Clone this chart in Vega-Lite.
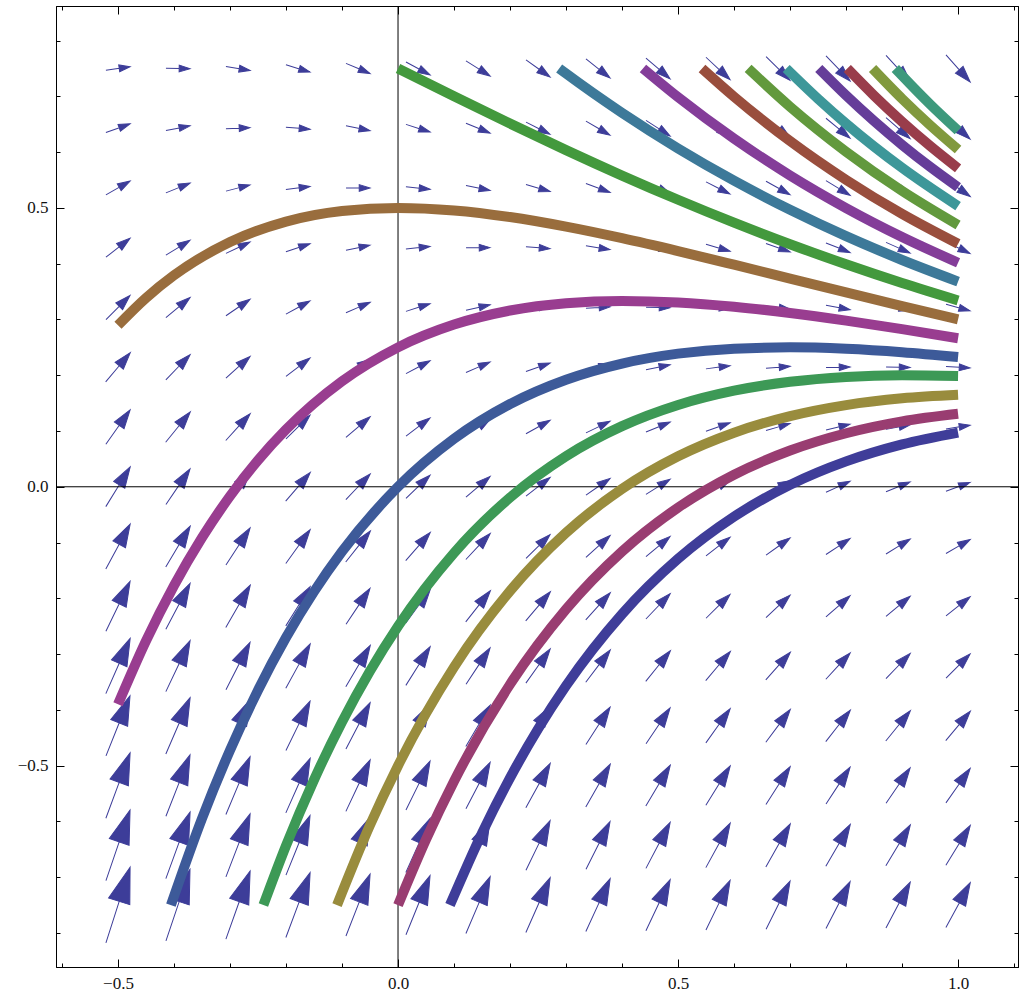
{
  "$schema": "https://vega.github.io/schema/vega-lite/v6.json",
  "width": 962,
  "height": 961,
  "autosize": "none",
  "padding": {"left": 56, "top": 6, "right": 9, "bottom": 28},
  "background": "white",
  "config": {
    "view": {"stroke": "black", "strokeWidth": 1},
    "axis": {
      "domainColor": "black",
      "domainWidth": 1,
      "tickColor": "black",
      "tickWidth": 1,
      "grid": false,
      "title": null,
      "labelOverlap": false,
      "labelFlush": false
    }
  },
  "datasets": {
    "arrows": [
      {"x":-0.5,"y":-0.75,"s":3.149},{"x":-0.3929,"y":-0.75,"s":2.981},{"x":-0.2857,"y":-0.75,"s":2.831},{"x":-0.1786,"y":-0.75,"s":2.696},{"x":-0.0714,"y":-0.75,"s":2.574},{"x":0.0357,"y":-0.75,"s":2.465},{"x":0.1429,"y":-0.75,"s":2.367},{"x":0.25,"y":-0.75,"s":2.279},{"x":0.3571,"y":-0.75,"s":2.2},{"x":0.4643,"y":-0.75,"s":2.129},{"x":0.5714,"y":-0.75,"s":2.065},{"x":0.6786,"y":-0.75,"s":2.007},{"x":0.7857,"y":-0.75,"s":1.956},{"x":0.8929,"y":-0.75,"s":1.909},{"x":1,"y":-0.75,"s":1.868},
      {"x":-0.5,"y":-0.6429,"s":2.935},{"x":-0.3929,"y":-0.6429,"s":2.767},{"x":-0.2857,"y":-0.6429,"s":2.617},{"x":-0.1786,"y":-0.6429,"s":2.482},{"x":-0.0714,"y":-0.6429,"s":2.36},{"x":0.0357,"y":-0.6429,"s":2.251},{"x":0.1429,"y":-0.6429,"s":2.153},{"x":0.25,"y":-0.6429,"s":2.065},{"x":0.3571,"y":-0.6429,"s":1.986},{"x":0.4643,"y":-0.6429,"s":1.915},{"x":0.5714,"y":-0.6429,"s":1.851},{"x":0.6786,"y":-0.6429,"s":1.793},{"x":0.7857,"y":-0.6429,"s":1.742},{"x":0.8929,"y":-0.6429,"s":1.695},{"x":1,"y":-0.6429,"s":1.654},
      {"x":-0.5,"y":-0.5357,"s":2.72},{"x":-0.3929,"y":-0.5357,"s":2.552},{"x":-0.2857,"y":-0.5357,"s":2.402},{"x":-0.1786,"y":-0.5357,"s":2.267},{"x":-0.0714,"y":-0.5357,"s":2.145},{"x":0.0357,"y":-0.5357,"s":2.036},{"x":0.1429,"y":-0.5357,"s":1.938},{"x":0.25,"y":-0.5357,"s":1.85},{"x":0.3571,"y":-0.5357,"s":1.771},{"x":0.4643,"y":-0.5357,"s":1.7},{"x":0.5714,"y":-0.5357,"s":1.636},{"x":0.6786,"y":-0.5357,"s":1.578},{"x":0.7857,"y":-0.5357,"s":1.527},{"x":0.8929,"y":-0.5357,"s":1.48},{"x":1,"y":-0.5357,"s":1.439},
      {"x":-0.5,"y":-0.4286,"s":2.506},{"x":-0.3929,"y":-0.4286,"s":2.338},{"x":-0.2857,"y":-0.4286,"s":2.188},{"x":-0.1786,"y":-0.4286,"s":2.053},{"x":-0.0714,"y":-0.4286,"s":1.931},{"x":0.0357,"y":-0.4286,"s":1.822},{"x":0.1429,"y":-0.4286,"s":1.724},{"x":0.25,"y":-0.4286,"s":1.636},{"x":0.3571,"y":-0.4286,"s":1.557},{"x":0.4643,"y":-0.4286,"s":1.486},{"x":0.5714,"y":-0.4286,"s":1.422},{"x":0.6786,"y":-0.4286,"s":1.364},{"x":0.7857,"y":-0.4286,"s":1.313},{"x":0.8929,"y":-0.4286,"s":1.266},{"x":1,"y":-0.4286,"s":1.225},
      {"x":-0.5,"y":-0.3214,"s":2.292},{"x":-0.3929,"y":-0.3214,"s":2.124},{"x":-0.2857,"y":-0.3214,"s":1.974},{"x":-0.1786,"y":-0.3214,"s":1.839},{"x":-0.0714,"y":-0.3214,"s":1.717},{"x":0.0357,"y":-0.3214,"s":1.608},{"x":0.1429,"y":-0.3214,"s":1.51},{"x":0.25,"y":-0.3214,"s":1.422},{"x":0.3571,"y":-0.3214,"s":1.343},{"x":0.4643,"y":-0.3214,"s":1.272},{"x":0.5714,"y":-0.3214,"s":1.208},{"x":0.6786,"y":-0.3214,"s":1.15},{"x":0.7857,"y":-0.3214,"s":1.099},{"x":0.8929,"y":-0.3214,"s":1.052},{"x":1,"y":-0.3214,"s":1.011},
      {"x":-0.5,"y":-0.2143,"s":2.078},{"x":-0.3929,"y":-0.2143,"s":1.91},{"x":-0.2857,"y":-0.2143,"s":1.76},{"x":-0.1786,"y":-0.2143,"s":1.625},{"x":-0.0714,"y":-0.2143,"s":1.503},{"x":0.0357,"y":-0.2143,"s":1.394},{"x":0.1429,"y":-0.2143,"s":1.296},{"x":0.25,"y":-0.2143,"s":1.208},{"x":0.3571,"y":-0.2143,"s":1.129},{"x":0.4643,"y":-0.2143,"s":1.058},{"x":0.5714,"y":-0.2143,"s":0.994},{"x":0.6786,"y":-0.2143,"s":0.936},{"x":0.7857,"y":-0.2143,"s":0.885},{"x":0.8929,"y":-0.2143,"s":0.838},{"x":1,"y":-0.2143,"s":0.797},
      {"x":-0.5,"y":-0.1071,"s":1.863},{"x":-0.3929,"y":-0.1071,"s":1.695},{"x":-0.2857,"y":-0.1071,"s":1.545},{"x":-0.1786,"y":-0.1071,"s":1.41},{"x":-0.0714,"y":-0.1071,"s":1.288},{"x":0.0357,"y":-0.1071,"s":1.179},{"x":0.1429,"y":-0.1071,"s":1.081},{"x":0.25,"y":-0.1071,"s":0.993},{"x":0.3571,"y":-0.1071,"s":0.914},{"x":0.4643,"y":-0.1071,"s":0.843},{"x":0.5714,"y":-0.1071,"s":0.779},{"x":0.6786,"y":-0.1071,"s":0.721},{"x":0.7857,"y":-0.1071,"s":0.67},{"x":0.8929,"y":-0.1071,"s":0.623},{"x":1,"y":-0.1071,"s":0.582},
      {"x":-0.5,"y":0,"s":1.649},{"x":-0.3929,"y":0,"s":1.481},{"x":-0.2857,"y":0,"s":1.331},{"x":-0.1786,"y":0,"s":1.196},{"x":-0.0714,"y":0,"s":1.074},{"x":0.0357,"y":0,"s":0.965},{"x":0.1429,"y":0,"s":0.867},{"x":0.25,"y":0,"s":0.779},{"x":0.3571,"y":0,"s":0.7},{"x":0.4643,"y":0,"s":0.629},{"x":0.5714,"y":0,"s":0.565},{"x":0.6786,"y":0,"s":0.507},{"x":0.7857,"y":0,"s":0.456},{"x":0.8929,"y":0,"s":0.409},{"x":1,"y":0,"s":0.368},
      {"x":-0.5,"y":0.1071,"s":1.435},{"x":-0.3929,"y":0.1071,"s":1.267},{"x":-0.2857,"y":0.1071,"s":1.117},{"x":-0.1786,"y":0.1071,"s":0.982},{"x":-0.0714,"y":0.1071,"s":0.86},{"x":0.0357,"y":0.1071,"s":0.751},{"x":0.1429,"y":0.1071,"s":0.653},{"x":0.25,"y":0.1071,"s":0.565},{"x":0.3571,"y":0.1071,"s":0.486},{"x":0.4643,"y":0.1071,"s":0.415},{"x":0.5714,"y":0.1071,"s":0.351},{"x":0.6786,"y":0.1071,"s":0.293},{"x":0.7857,"y":0.1071,"s":0.242},{"x":0.8929,"y":0.1071,"s":0.195},{"x":1,"y":0.1071,"s":0.154},
      {"x":-0.5,"y":0.2143,"s":1.22},{"x":-0.3929,"y":0.2143,"s":1.052},{"x":-0.2857,"y":0.2143,"s":0.902},{"x":-0.1786,"y":0.2143,"s":0.767},{"x":-0.0714,"y":0.2143,"s":0.645},{"x":0.0357,"y":0.2143,"s":0.536},{"x":0.1429,"y":0.2143,"s":0.438},{"x":0.25,"y":0.2143,"s":0.35},{"x":0.3571,"y":0.2143,"s":0.271},{"x":0.4643,"y":0.2143,"s":0.2},{"x":0.5714,"y":0.2143,"s":0.136},{"x":0.6786,"y":0.2143,"s":0.078},{"x":0.7857,"y":0.2143,"s":0.027},{"x":0.8929,"y":0.2143,"s":-0.02},{"x":1,"y":0.2143,"s":-0.061},
      {"x":-0.5,"y":0.3214,"s":1.006},{"x":-0.3929,"y":0.3214,"s":0.838},{"x":-0.2857,"y":0.3214,"s":0.688},{"x":-0.1786,"y":0.3214,"s":0.553},{"x":-0.0714,"y":0.3214,"s":0.431},{"x":0.0357,"y":0.3214,"s":0.322},{"x":0.1429,"y":0.3214,"s":0.224},{"x":0.25,"y":0.3214,"s":0.136},{"x":0.3571,"y":0.3214,"s":0.057},{"x":0.4643,"y":0.3214,"s":-0.014},{"x":0.5714,"y":0.3214,"s":-0.078},{"x":0.6786,"y":0.3214,"s":-0.136},{"x":0.7857,"y":0.3214,"s":-0.187},{"x":0.8929,"y":0.3214,"s":-0.234},{"x":1,"y":0.3214,"s":-0.275},
      {"x":-0.5,"y":0.4286,"s":0.792},{"x":-0.3929,"y":0.4286,"s":0.624},{"x":-0.2857,"y":0.4286,"s":0.474},{"x":-0.1786,"y":0.4286,"s":0.339},{"x":-0.0714,"y":0.4286,"s":0.217},{"x":0.0357,"y":0.4286,"s":0.108},{"x":0.1429,"y":0.4286,"s":0.01},{"x":0.25,"y":0.4286,"s":-0.078},{"x":0.3571,"y":0.4286,"s":-0.157},{"x":0.4643,"y":0.4286,"s":-0.228},{"x":0.5714,"y":0.4286,"s":-0.292},{"x":0.6786,"y":0.4286,"s":-0.35},{"x":0.7857,"y":0.4286,"s":-0.401},{"x":0.8929,"y":0.4286,"s":-0.448},{"x":1,"y":0.4286,"s":-0.489},
      {"x":-0.5,"y":0.5357,"s":0.578},{"x":-0.3929,"y":0.5357,"s":0.41},{"x":-0.2857,"y":0.5357,"s":0.26},{"x":-0.1786,"y":0.5357,"s":0.125},{"x":-0.0714,"y":0.5357,"s":0.003},{"x":0.0357,"y":0.5357,"s":-0.106},{"x":0.1429,"y":0.5357,"s":-0.204},{"x":0.25,"y":0.5357,"s":-0.292},{"x":0.3571,"y":0.5357,"s":-0.371},{"x":0.4643,"y":0.5357,"s":-0.442},{"x":0.5714,"y":0.5357,"s":-0.506},{"x":0.6786,"y":0.5357,"s":-0.564},{"x":0.7857,"y":0.5357,"s":-0.615},{"x":0.8929,"y":0.5357,"s":-0.662},{"x":1,"y":0.5357,"s":-0.703},
      {"x":-0.5,"y":0.6429,"s":0.363},{"x":-0.3929,"y":0.6429,"s":0.195},{"x":-0.2857,"y":0.6429,"s":0.045},{"x":-0.1786,"y":0.6429,"s":-0.09},{"x":-0.0714,"y":0.6429,"s":-0.212},{"x":0.0357,"y":0.6429,"s":-0.321},{"x":0.1429,"y":0.6429,"s":-0.419},{"x":0.25,"y":0.6429,"s":-0.507},{"x":0.3571,"y":0.6429,"s":-0.586},{"x":0.4643,"y":0.6429,"s":-0.657},{"x":0.5714,"y":0.6429,"s":-0.721},{"x":0.6786,"y":0.6429,"s":-0.779},{"x":0.7857,"y":0.6429,"s":-0.83},{"x":0.8929,"y":0.6429,"s":-0.877},{"x":1,"y":0.6429,"s":-0.918},
      {"x":-0.5,"y":0.75,"s":0.149},{"x":-0.3929,"y":0.75,"s":-0.019},{"x":-0.2857,"y":0.75,"s":-0.169},{"x":-0.1786,"y":0.75,"s":-0.304},{"x":-0.0714,"y":0.75,"s":-0.426},{"x":0.0357,"y":0.75,"s":-0.535},{"x":0.1429,"y":0.75,"s":-0.633},{"x":0.25,"y":0.75,"s":-0.721},{"x":0.3571,"y":0.75,"s":-0.8},{"x":0.4643,"y":0.75,"s":-0.871},{"x":0.5714,"y":0.75,"s":-0.935},{"x":0.6786,"y":0.75,"s":-0.993},{"x":0.7857,"y":0.75,"s":-1.044},{"x":0.8929,"y":0.75,"s":-1.091},{"x":1,"y":0.75,"s":-1.132}
    ],
    "curves": [
      {"c":"c01","x":0.0927,"y":-0.75},{"c":"c01","x":0.15,"y":-0.6209},{"c":"c01","x":0.2,"y":-0.5219},{"c":"c01","x":0.25,"y":-0.4343},{"c":"c01","x":0.3,"y":-0.3568},{"c":"c01","x":0.4,"y":-0.2283},{"c":"c01","x":0.5,"y":-0.1292},{"c":"c01","x":0.6,"y":-0.0536},{"c":"c01","x":0.7,"y":0.0034},{"c":"c01","x":0.8,"y":0.0455},{"c":"c01","x":0.9,"y":0.076},{"c":"c01","x":1,"y":0.0972},
      {"c":"c02","x":0,"y":-0.75},{"c":"c02","x":0.05,"y":-0.6322},{"c":"c02","x":0.1,"y":-0.5279},{"c":"c02","x":0.2,"y":-0.3543},{"c":"c02","x":0.3,"y":-0.2196},{"c":"c02","x":0.4,"y":-0.116},{"c":"c02","x":0.5,"y":-0.0373},{"c":"c02","x":0.6,"y":0.0217},{"c":"c02","x":0.7,"y":0.065},{"c":"c02","x":0.8,"y":0.096},{"c":"c02","x":0.9,"y":0.1173},{"c":"c02","x":1,"y":0.131},
      {"c":"c03","x":-0.1089,"y":-0.75},{"c":"c03","x":-0.05,"y":-0.6065},{"c":"c03","x":0,"y":-0.5},{"c":"c03","x":0.1,"y":-0.3233},{"c":"c03","x":0.2,"y":-0.1868},{"c":"c03","x":0.3,"y":-0.0824},{"c":"c03","x":0.4,"y":-0.0037},{"c":"c03","x":0.5,"y":0.0547},{"c":"c03","x":0.6,"y":0.097},{"c":"c03","x":0.7,"y":0.1267},{"c":"c03","x":0.8,"y":0.1465},{"c":"c03","x":0.9,"y":0.1586},{"c":"c03","x":1,"y":0.1649},
      {"c":"c04","x":-0.2404,"y":-0.75},{"c":"c04","x":-0.2,"y":-0.6434},{"c":"c04","x":-0.15,"y":-0.5255},{"c":"c04","x":-0.1,"y":-0.4216},{"c":"c04","x":-0.05,"y":-0.3302},{"c":"c04","x":0,"y":-0.25},{"c":"c04","x":0.1,"y":-0.1186},{"c":"c04","x":0.2,"y":-0.0192},{"c":"c04","x":0.3,"y":0.0548},{"c":"c04","x":0.4,"y":0.1087},{"c":"c04","x":0.5,"y":0.1467},{"c":"c04","x":0.6,"y":0.1723},{"c":"c04","x":0.7,"y":0.1883},{"c":"c04","x":0.8,"y":0.197},{"c":"c04","x":0.9,"y":0.1999},{"c":"c04","x":1,"y":0.1987},
      {"c":"c05","x":-0.4055,"y":-0.75},{"c":"c05","x":-0.35,"y":-0.5947},{"c":"c05","x":-0.3,"y":-0.4723},{"c":"c05","x":-0.25,"y":-0.3647},{"c":"c05","x":-0.2,"y":-0.2704},{"c":"c05","x":-0.15,"y":-0.188},{"c":"c05","x":-0.1,"y":-0.1162},{"c":"c05","x":0,"y":0},{"c":"c05","x":0.1,"y":0.0861},{"c":"c05","x":0.2,"y":0.1484},{"c":"c05","x":0.3,"y":0.192},{"c":"c05","x":0.4,"y":0.221},{"c":"c05","x":0.5,"y":0.2387},{"c":"c05","x":0.6,"y":0.2476},{"c":"c05","x":0.7,"y":0.25},{"c":"c05","x":0.8,"y":0.2474},{"c":"c05","x":0.9,"y":0.2413},{"c":"c05","x":1,"y":0.2325},
      {"c":"c06","x":-0.5,"y":-0.39},{"c":"c06","x":-0.45,"y":-0.2764},{"c":"c06","x":-0.4,"y":-0.1773},{"c":"c06","x":-0.35,"y":-0.0913},{"c":"c06","x":-0.3,"y":-0.0167},{"c":"c06","x":-0.25,"y":0.0475},{"c":"c06","x":-0.2,"y":0.1025},{"c":"c06","x":-0.1,"y":0.1891},{"c":"c06","x":0,"y":0.25},{"c":"c06","x":0.1,"y":0.2908},{"c":"c06","x":0.2,"y":0.316},{"c":"c06","x":0.3,"y":0.3292},{"c":"c06","x":0.4,"y":0.3333},{"c":"c06","x":0.5,"y":0.3306},{"c":"c06","x":0.6,"y":0.3229},{"c":"c06","x":0.7,"y":0.3116},{"c":"c06","x":0.8,"y":0.2979},{"c":"c06","x":0.9,"y":0.2826},{"c":"c06","x":1,"y":0.2664},
      {"c":"c07","x":-0.5,"y":0.2896},{"c":"c07","x":-0.45,"y":0.3385},{"c":"c07","x":-0.4,"y":0.3791},{"c":"c07","x":-0.3,"y":0.4388},{"c":"c07","x":-0.2,"y":0.4755},{"c":"c07","x":-0.1,"y":0.4945},{"c":"c07","x":0,"y":0.5},{"c":"c07","x":0.1,"y":0.4955},{"c":"c07","x":0.2,"y":0.4836},{"c":"c07","x":0.3,"y":0.4664},{"c":"c07","x":0.4,"y":0.4457},{"c":"c07","x":0.5,"y":0.4226},{"c":"c07","x":0.6,"y":0.3982},{"c":"c07","x":0.7,"y":0.3733},{"c":"c07","x":0.8,"y":0.3484},{"c":"c07","x":0.9,"y":0.3239},{"c":"c07","x":1,"y":0.3002},
      {"c":"c08","x":0,"y":0.75},{"c":"c08","x":0.1,"y":0.7002},{"c":"c08","x":0.2,"y":0.6512},{"c":"c08","x":0.3,"y":0.6036},{"c":"c08","x":0.4,"y":0.558},{"c":"c08","x":0.5,"y":0.5146},{"c":"c08","x":0.6,"y":0.4735},{"c":"c08","x":0.7,"y":0.4349},{"c":"c08","x":0.8,"y":0.3989},{"c":"c08","x":0.9,"y":0.3653},{"c":"c08","x":1,"y":0.3341},
      {"c":"c09","x":0.2877,"y":0.75},{"c":"c09","x":0.3,"y":0.7408},{"c":"c09","x":0.4,"y":0.6703},{"c":"c09","x":0.5,"y":0.6065},{"c":"c09","x":0.6,"y":0.5488},{"c":"c09","x":0.7,"y":0.4966},{"c":"c09","x":0.8,"y":0.4493},{"c":"c09","x":0.9,"y":0.4066},{"c":"c09","x":1,"y":0.3679},
      {"c":"c10","x":0.4373,"y":0.75},{"c":"c10","x":0.5,"y":0.6985},{"c":"c10","x":0.6,"y":0.6241},{"c":"c10","x":0.7,"y":0.5582},{"c":"c10","x":0.8,"y":0.4998},{"c":"c10","x":0.9,"y":0.4479},{"c":"c10","x":1,"y":0.4017},
      {"c":"c11","x":0.5428,"y":0.75},{"c":"c11","x":0.6,"y":0.6994},{"c":"c11","x":0.7,"y":0.6199},{"c":"c11","x":0.8,"y":0.5503},{"c":"c11","x":0.9,"y":0.4892},{"c":"c11","x":1,"y":0.4356},
      {"c":"c12","x":0.6251,"y":0.75},{"c":"c12","x":0.7,"y":0.6815},{"c":"c12","x":0.8,"y":0.6008},{"c":"c12","x":0.9,"y":0.5305},{"c":"c12","x":1,"y":0.4694},
      {"c":"c13","x":0.6931,"y":0.75},{"c":"c13","x":0.75,"y":0.6955},{"c":"c13","x":0.8,"y":0.6512},{"c":"c13","x":0.9,"y":0.5719},{"c":"c13","x":1,"y":0.5032},
      {"c":"c14","x":0.7512,"y":0.75},{"c":"c14","x":0.8,"y":0.7017},{"c":"c14","x":0.85,"y":0.6558},{"c":"c14","x":0.9,"y":0.6132},{"c":"c14","x":0.95,"y":0.5737},{"c":"c14","x":1,"y":0.5371},
      {"c":"c15","x":0.8021,"y":0.75},{"c":"c15","x":0.85,"y":0.7014},{"c":"c15","x":0.9,"y":0.6545},{"c":"c15","x":0.95,"y":0.6111},{"c":"c15","x":1,"y":0.5709},
      {"c":"c16","x":0.8473,"y":0.75},{"c":"c16","x":0.9,"y":0.6958},{"c":"c16","x":0.95,"y":0.6485},{"c":"c16","x":1,"y":0.6047},
      {"c":"c17","x":0.888,"y":0.75},{"c":"c17","x":0.9,"y":0.7372},{"c":"c17","x":0.95,"y":0.6859},{"c":"c17","x":1,"y":0.6386}
    ]
  },
  "layer": [
    {
      "data": {"name": "arrows"},
      "mark": {
        "type": "point",
        "shape": "M0,1L0,-0.12M0,-1L-0.28,-0.1L0.28,-0.1Z",
        "filled": true,
        "fill": "#3D3D99",
        "stroke": "#3D3D99",
        "strokeWidth": 1,
        "opacity": 1
      },
      "encoding": {
        "x": {
          "field": "x", "type": "quantitative",
          "scale": {"domain": [-0.6107, 1.107], "nice": false, "zero": false},
          "axis": {
            "orient": "top",
            "values": [-0.6,-0.5,-0.4,-0.3,-0.2,-0.1,0,0.1,0.2,0.3,0.4,0.5,0.6,0.7,0.8,0.9,1,1.1],
            "labels": false,
            "tickSize": {"condition": {"test": "abs(datum.value*2 - round(datum.value*2)) < 0.01", "value": -8}, "value": -4}
          }
        },
        "y": {
          "field": "y", "type": "quantitative",
          "scale": {"domain": [-0.861, 0.862], "nice": false, "zero": false},
          "axis": {
            "orient": "right",
            "values": [-0.8,-0.7,-0.6,-0.5,-0.4,-0.3,-0.2,-0.1,0,0.1,0.2,0.3,0.4,0.5,0.6,0.7,0.8],
            "labels": false,
            "tickSize": {"condition": {"test": "abs(datum.value*2 - round(datum.value*2)) < 0.01", "value": -8}, "value": -4}
          }
        },
        "angle": {
          "field": "s", "type": "quantitative",
          "scale": {
            "domain": [-1.25,-1,-0.75,-0.5,-0.25,0,0.25,0.5,0.75,1,1.5,2,2.5,3,3.5],
            "range": [141.34,135,126.87,116.57,104.04,90,75.96,63.43,53.13,45,33.69,26.57,21.8,18.43,15.95],
            "nice": false, "zero": false, "clamp": true
          }
        },
        "size": {
          "field": "s", "type": "quantitative",
          "scale": {
            "domain": [-1.25,-1,-0.75,-0.5,-0.25,0,0.25,0.5,0.75,1,1.5,2,2.5,3,3.5],
            "range": [1476,1152,900,720,612,576,612,720,900,1152,1872,2880,4176,5760,7632],
            "nice": false, "zero": false, "clamp": true
          },
          "legend": null
        }
      }
    },
    {
      "data": {"values": [{}]},
      "mark": {"type": "rule", "color": "black", "strokeWidth": 1},
      "encoding": {"x": {"datum": 0, "type": "quantitative", "axis": null}}
    },
    {
      "data": {"values": [{}]},
      "mark": {"type": "rule", "color": "black", "strokeWidth": 1},
      "encoding": {"y": {"datum": 0, "type": "quantitative", "axis": null}}
    },
    {
      "data": {"name": "curves"},
      "mark": {"type": "line", "strokeWidth": 10, "strokeCap": "butt", "interpolate": "monotone"},
      "encoding": {
        "x": {
          "field": "x", "type": "quantitative",
          "axis": {
            "orient": "bottom",
            "values": [-0.6,-0.5,-0.4,-0.3,-0.2,-0.1,0,0.1,0.2,0.3,0.4,0.5,0.6,0.7,0.8,0.9,1,1.1],
            "labelExpr": "abs(datum.value*2 - round(datum.value*2)) < 0.01 ? format(datum.value, '.1f') : ''",
            "labelFont": "Liberation Serif",
            "labelFontSize": 17,
            "labelColor": "#111111",
            "labelPadding": 16,
            "tickSize": {"condition": {"test": "abs(datum.value*2 - round(datum.value*2)) < 0.01", "value": -8}, "value": -4}
          }
        },
        "y": {
          "field": "y", "type": "quantitative",
          "axis": {
            "orient": "left",
            "values": [-0.8,-0.7,-0.6,-0.5,-0.4,-0.3,-0.2,-0.1,0,0.1,0.2,0.3,0.4,0.5,0.6,0.7,0.8],
            "labelExpr": "abs(datum.value*2 - round(datum.value*2)) < 0.01 ? format(datum.value, '.1f') : ''",
            "labelFont": "Liberation Serif",
            "labelFontSize": 17,
            "labelColor": "#111111",
            "labelPadding": 16,
            "tickSize": {"condition": {"test": "abs(datum.value*2 - round(datum.value*2)) < 0.01", "value": -8}, "value": -4}
          }
        },
        "color": {
          "field": "c", "type": "nominal",
          "scale": {
            "domain": ["c01","c02","c03","c04","c05","c06","c07","c08","c09","c10","c11","c12","c13","c14","c15","c16","c17"],
            "range": ["#3F3D99","#993D71","#998C3D","#3D9956","#3D5A99","#993D90","#996D3D","#43993D","#3D7999","#843D99","#994E3D","#62993D","#3D9799","#653D99","#993D4B","#81993D","#3D997C"]
          },
          "legend": null
        }
      }
    }
  ],
  "resolve": {"axis": {"x": "independent", "y": "independent"}}
}
